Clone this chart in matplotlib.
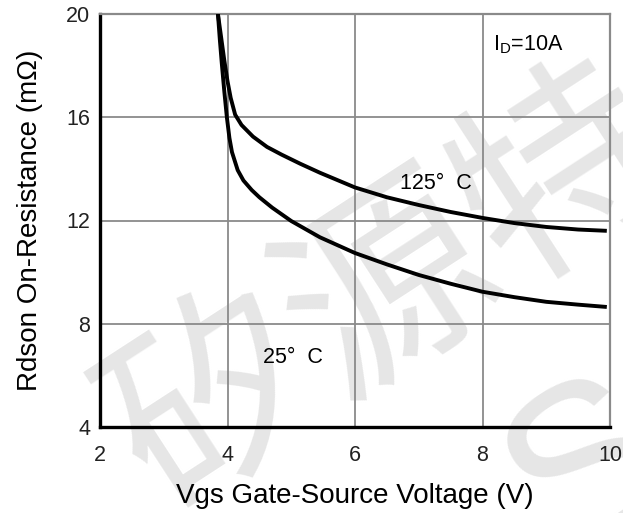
#!/usr/bin/env python3
"""Rdson vs Vgs at ID = 10 A, two junction temperatures."""

import matplotlib

matplotlib.use("Agg")
import matplotlib.pyplot as plt

# values
vgs_125 = [3.85, 3.9, 3.95, 4.0, 4.05, 4.12, 4.22, 4.4, 4.62, 4.85, 5.14, 5.45,
           6.0, 6.5, 7.0, 7.5, 8.0, 8.5, 9.0, 9.5, 9.95]
rds_125 = [20.0, 19.1, 18.2, 17.4, 16.75, 16.1, 15.7, 15.25, 14.85, 14.55, 14.2, 13.85,
           13.28, 12.9, 12.6, 12.33, 12.1, 11.9, 11.75, 11.65, 11.6]

vgs_25 = [3.85, 3.88, 3.91, 3.95, 3.99, 4.03, 4.07, 4.16, 4.25, 4.38, 4.5,
          4.7, 5.0, 5.45, 6.0, 6.5, 7.0, 7.5, 8.0, 8.5, 9.0, 9.5, 9.95]
rds_25 = [20.0, 19.0, 18.1, 17.0, 16.0, 15.2, 14.65, 13.95, 13.55, 13.18, 12.9,
          12.5, 11.98, 11.35, 10.74, 10.3, 9.89, 9.55, 9.24, 9.03, 8.85, 8.74, 8.65]

x_ticks = [2, 4, 6, 8, 10]
y_ticks = [4, 8, 12, 16, 20]

plt.rcParams["font.family"] = ["Liberation Sans", "DejaVu Sans"]

fig = plt.figure(figsize=(6.23, 5.13), dpi=100)
ax = fig.add_axes([100 / 623, 1 - 427 / 513, 510 / 623, 413 / 513])
ax.set_facecolor("none")

# faint watermark behind everything
fig.text(0.63, 0.43, "矽源特", fontsize=150, color="#e6e6e6", rotation=33,
         ha="center", va="center", family=["Noto Sans CJK SC", "DejaVu Sans"],
         zorder=-5)
fig.text(0.95, 0.08, "S", fontsize=160, color="#e6e6e6", rotation=33,
         ha="center", va="center", zorder=-5)

ax.plot(vgs_125, rds_125, color="black", lw=2.8, solid_capstyle="butt",
        solid_joinstyle="round", zorder=3)
ax.plot(vgs_25, rds_25, color="black", lw=2.8, solid_capstyle="butt",
        solid_joinstyle="round", zorder=3)

ax.set_xlim(2, 10)
ax.set_ylim(4, 20)
ax.set_xticks(x_ticks)
ax.set_yticks(y_ticks)
ax.tick_params(length=0, labelsize=15.5, colors="#222222")
ax.tick_params(axis="x", pad=13)
ax.tick_params(axis="y", pad=7)
ax.grid(True, color="#8a8a8a", lw=1.3)

for side in ("left", "bottom"):
    ax.spines[side].set_linewidth(2.4)
    ax.spines[side].set_color("black")
for side in ("top", "right"):
    ax.spines[side].set_linewidth(1.6)
    ax.spines[side].set_color("#8a8a8a")

ax.text(6.7, 13.45, "125°  C", fontsize=15.5, va="center")
ax.text(4.56, 6.7, "25°  C", fontsize=15.5, va="center")
ax.text(8.16, 18.8, "I$_\\mathregular{D}$=10A", fontsize=15.5, va="center")

ax.set_xlabel("Vgs Gate-Source Voltage (V)", fontsize=20, labelpad=12)
ax.set_ylabel("Rdson On-Resistance (mΩ)", fontsize=20, labelpad=17)

fig.savefig("out.png", dpi=100)
